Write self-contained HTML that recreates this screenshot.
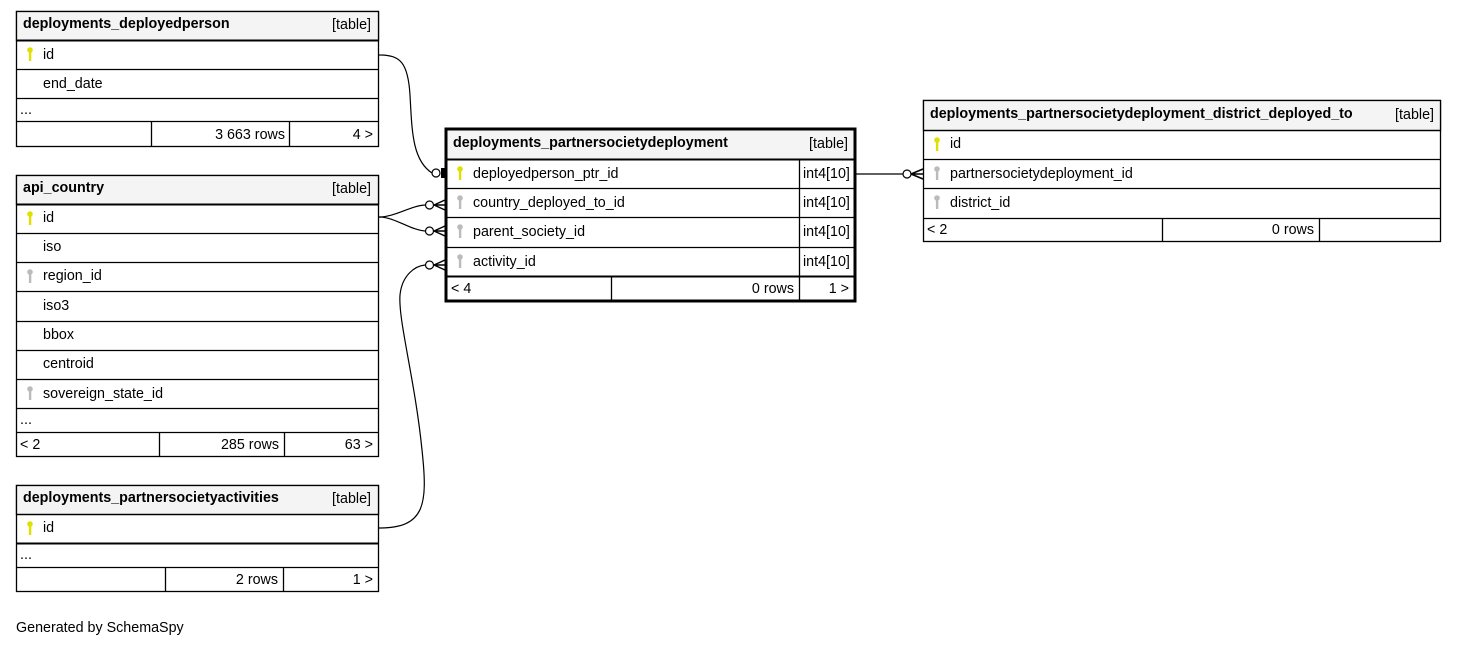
<!DOCTYPE html>
<html><head><meta charset="utf-8"><style>
html,body{margin:0;padding:0;background:#fff;width:1457px;height:647px;overflow:hidden}
svg text{font-family:"Liberation Sans",Arial,sans-serif;font-size:14.3px;fill:#000}
.b{font-weight:bold;font-size:14.3px}
</style></head><body>
<svg width="1457" height="647" xmlns="http://www.w3.org/2000/svg">
<defs>
<g id="pk"><circle cx="0" cy="-4" r="2.8" fill="#e0e000"/><rect x="-1.1" y="-3" width="2.4" height="10" fill="#e0e000"/></g>
<g id="fk"><circle cx="0" cy="-4" r="2.8" fill="#bbb"/><rect x="-1.1" y="-3" width="2.4" height="10" fill="#bbb"/></g>
</defs>
<g fill="none" stroke="#000" stroke-width="1.3">
<rect x="16.5" y="11.5" width="362" height="135" fill="#fff"/>
<rect x="16.5" y="11.5" width="362" height="29" fill="#f4f4f4"/>
<line x1="16" y1="40.5" x2="379" y2="40.5" stroke-width="2"/>
<line x1="16" y1="69.5" x2="379" y2="69.5"/>
<line x1="16" y1="98.5" x2="379" y2="98.5"/>
<line x1="16" y1="121.5" x2="379" y2="121.5"/>
<line x1="151.5" y1="121" x2="151.5" y2="147"/>
<line x1="289.5" y1="121" x2="289.5" y2="147"/>
<rect x="16.5" y="175.5" width="362" height="281" fill="#fff"/>
<rect x="16.5" y="175.5" width="362" height="29" fill="#f4f4f4"/>
<line x1="16" y1="204.5" x2="379" y2="204.5" stroke-width="2"/>
<line x1="16" y1="233.5" x2="379" y2="233.5"/>
<line x1="16" y1="262.5" x2="379" y2="262.5"/>
<line x1="16" y1="291.5" x2="379" y2="291.5"/>
<line x1="16" y1="321.5" x2="379" y2="321.5"/>
<line x1="16" y1="350.5" x2="379" y2="350.5"/>
<line x1="16" y1="379.5" x2="379" y2="379.5"/>
<line x1="16" y1="408.5" x2="379" y2="408.5"/>
<line x1="16" y1="432.5" x2="379" y2="432.5"/>
<line x1="159.5" y1="432" x2="159.5" y2="457"/>
<line x1="284.5" y1="432" x2="284.5" y2="457"/>
<rect x="16.5" y="485.5" width="362" height="106" fill="#fff"/>
<rect x="16.5" y="485.5" width="362" height="29" fill="#f4f4f4"/>
<line x1="16" y1="514.5" x2="379" y2="514.5"/>
<line x1="16" y1="543.5" x2="379" y2="543.5" stroke-width="2"/>
<line x1="16" y1="567.5" x2="379" y2="567.5"/>
<line x1="165.5" y1="567" x2="165.5" y2="592"/>
<line x1="283.5" y1="567" x2="283.5" y2="592"/>
<rect x="446" y="129" width="409" height="172" fill="#fff" stroke-width="3"/>
<rect x="447.5" y="130.5" width="406" height="28" fill="#f4f4f4" stroke="none"/>
<line x1="446" y1="159.5" x2="855" y2="159.5" stroke-width="2"/>
<line x1="446" y1="188.5" x2="855" y2="188.5"/>
<line x1="446" y1="217.5" x2="855" y2="217.5"/>
<line x1="446" y1="247.5" x2="855" y2="247.5"/>
<line x1="446" y1="276.5" x2="855" y2="276.5" stroke-width="2"/>
<line x1="799.5" y1="159" x2="799.5" y2="301"/>
<line x1="611.5" y1="276" x2="611.5" y2="301"/>
<rect x="923.5" y="100.5" width="517" height="141" fill="#fff"/>
<rect x="923.5" y="100.5" width="517" height="30" fill="#f4f4f4"/>
<line x1="923" y1="130.5" x2="1441" y2="130.5"/>
<line x1="923" y1="159.5" x2="1441" y2="159.5"/>
<line x1="923" y1="188.5" x2="1441" y2="188.5"/>
<line x1="923" y1="218.5" x2="1441" y2="218.5"/>
<line x1="1162.5" y1="218" x2="1162.5" y2="242"/>
<line x1="1319.5" y1="218" x2="1319.5" y2="242"/>
<path d="M379,55 C400,55 408,62 410,95 C412,130 412,160 432,173" stroke-width="1.2"/>
<circle cx="436" cy="173" r="4" fill="#fff" stroke-width="1.2"/>
<path d="M379,217 C395,217 410,206 425,205" stroke-width="1.2"/>
<path d="M379,217 C395,217 410,230 425,231" stroke-width="1.2"/>
<circle cx="429.5" cy="205" r="4" fill="#fff" stroke-width="1.2"/>
<circle cx="429.5" cy="231" r="4" fill="#fff" stroke-width="1.2"/>
<path d="M379,528 C425,528 428,505 422,450 C415,380 398,320 400,295 C402,275 415,266 425,265" stroke-width="1.2"/>
<circle cx="429.5" cy="265" r="4" fill="#fff" stroke-width="1.2"/>
<line x1="856" y1="174" x2="903" y2="174" stroke-width="1.2"/>
<circle cx="907" cy="174" r="4" fill="#fff" stroke-width="1.2"/>
<path d="M434,205 L445,200 M434,205 L445,205 M434,205 L445,210" stroke-width="1.5"/>
<path d="M434,231 L445,226 M434,231 L445,231 M434,231 L445,236" stroke-width="1.5"/>
<path d="M434,265 L445,260 M434,265 L445,265 M434,265 L445,270" stroke-width="1.5"/>
<path d="M911,174 L923,169 M911,174 L923,174 M911,174 L923,179" stroke-width="1.5"/>
</g>
<rect x="441" y="168" width="4" height="10" fill="#000"/>
<use href="#pk" x="30" y="54"/>
<use href="#pk" x="30" y="218"/>
<use href="#fk" x="30" y="276"/>
<use href="#fk" x="30" y="393"/>
<use href="#pk" x="30" y="528"/>
<use href="#pk" x="460" y="173"/>
<use href="#fk" x="460" y="202"/>
<use href="#fk" x="460" y="231"/>
<use href="#fk" x="460" y="261"/>
<use href="#pk" x="937" y="144"/>
<use href="#fk" x="937" y="173"/>
<use href="#fk" x="937" y="202"/>
<text x="23" y="28" class="b">deployments_deployedperson</text>
<text x="371" y="29" text-anchor="end">[table]</text>
<text x="43" y="59">id</text>
<text x="43" y="88">end_date</text>
<text x="20" y="114">...</text>
<text x="285" y="139" text-anchor="end">3 663 rows</text>
<text x="373" y="139" text-anchor="end">4 &gt;</text>
<text x="23" y="192" class="b">api_country</text>
<text x="371" y="193" text-anchor="end">[table]</text>
<text x="43" y="222">id</text>
<text x="43" y="251">iso</text>
<text x="43" y="280">region_id</text>
<text x="43" y="310">iso3</text>
<text x="43" y="339">bbox</text>
<text x="43" y="368">centroid</text>
<text x="43" y="398">sovereign_state_id</text>
<text x="20" y="424">...</text>
<text x="20" y="449">&lt; 2</text>
<text x="279" y="449" text-anchor="end">285 rows</text>
<text x="373" y="449" text-anchor="end">63 &gt;</text>
<text x="23" y="502" class="b">deployments_partnersocietyactivities</text>
<text x="371" y="503" text-anchor="end">[table]</text>
<text x="43" y="532">id</text>
<text x="20" y="559">...</text>
<text x="278" y="584" text-anchor="end">2 rows</text>
<text x="373" y="584" text-anchor="end">1 &gt;</text>
<text x="453" y="147" class="b">deployments_partnersocietydeployment</text>
<text x="848" y="148" text-anchor="end">[table]</text>
<text x="473" y="178">deployedperson_ptr_id</text>
<text x="473" y="207">country_deployed_to_id</text>
<text x="473" y="236">parent_society_id</text>
<text x="473" y="266">activity_id</text>
<text x="803" y="178">int4[10]</text>
<text x="803" y="207">int4[10]</text>
<text x="803" y="236">int4[10]</text>
<text x="803" y="266">int4[10]</text>
<text x="451" y="293">&lt; 4</text>
<text x="794" y="293" text-anchor="end">0 rows</text>
<text x="849" y="293" text-anchor="end">1 &gt;</text>
<text x="930" y="118" class="b">deployments_partnersocietydeployment_district_deployed_to</text>
<text x="1434" y="119" text-anchor="end">[table]</text>
<text x="950" y="148">id</text>
<text x="950" y="178">partnersocietydeployment_id</text>
<text x="950" y="207">district_id</text>
<text x="927" y="234">&lt; 2</text>
<text x="1314" y="234" text-anchor="end">0 rows</text>
<text x="16" y="632">Generated by SchemaSpy</text>
</svg>
</body></html>
